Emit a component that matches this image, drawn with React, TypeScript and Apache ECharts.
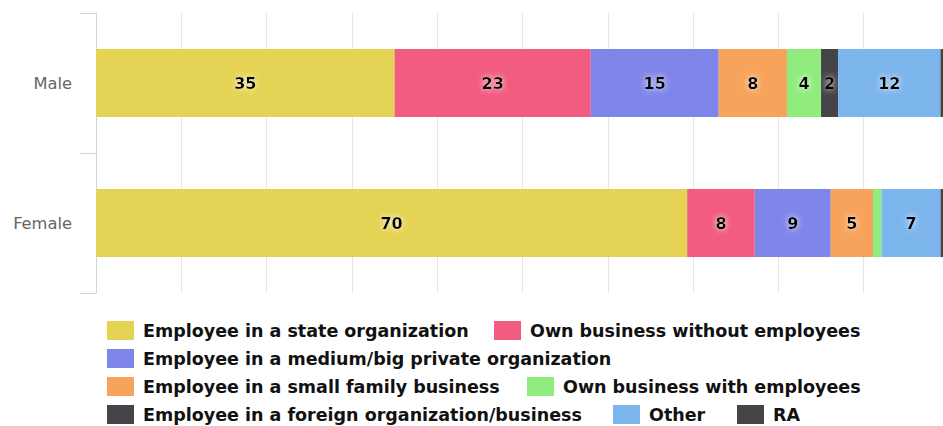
import React, { useEffect, useRef } from "react";
import * as echarts from "echarts";

const categories = ["Male", "Female"];
const seriesNames = [
  "Employee in a state organization",
  "Own business without employees",
  "Employee in a medium/big private organization",
  "Employee in a small family business",
  "Own business with employees",
  "Employee in a foreign organization/business",
  "Other",
  "RA",
];
// raw values [Male, Female] per series (stacked to 100% per category)
const stateOrg = [35, 70];
const ownNoEmp = [23, 8];
const mediumBig = [15, 9];
const smallFamily = [8, 5];
const ownWithEmp = [4, 1];
const foreignOrg = [2, 0];
const other = [12, 7];
const ra = [1, 1];
const seriesValues = [stateOrg, ownNoEmp, mediumBig, smallFamily, ownWithEmp, foreignOrg, other, ra];
const colors = ["#e4d354", "#f15c80", "#8085e9", "#f7a35c", "#90ed7d", "#434348", "#7cb5ec", "#444444"];

// legend item placement (left px, row index)
const legendLeft = [107, 494, 107, 107, 527, 107, 613, 737];
const legendRow = [0, 0, 1, 2, 2, 3, 3, 3];

const FONT = "DejaVu Sans";

export default function App() {
  const ref = useRef<HTMLDivElement>(null);
  useEffect(() => {
    if (!ref.current) return;
    const chart = echarts.init(ref.current, undefined, { renderer: "svg" });
    const totals = categories.map((_, ci) => seriesValues.reduce((s, arr) => s + arr[ci], 0));
    const series = seriesNames.map((name, si) => ({
      name,
      type: "bar",
      stack: "total",
      barWidth: 68,
      itemStyle: { color: colors[si] },
      data: seriesValues[si].map((v, ci) => ({
        value: (v / totals[ci]) * 100,
        raw: v,
        label: { show: v >= 2 },
      })),
      label: {
        show: true,
        position: "inside",
        formatter: (p: any) => String(p.data.raw),
        fontFamily: FONT,
        fontWeight: "bold",
        fontSize: 16,
        color: "#000",
        textShadowColor: "rgba(255,255,255,0.95)",
        textShadowBlur: 6,
      },
    }));
    const legends = seriesNames.map((name, i) => ({
      left: legendLeft[i],
      top: 321 + legendRow[i] * 28,
      padding: 0,
      itemWidth: 27,
      itemHeight: 19,
      icon: "rect",
      data: [name],
      textStyle: {
        fontFamily: FONT,
        fontWeight: "bold",
        fontSize: 17.5,
        color: "#111",
        padding: [0, 0, 0, 4],
      },
    }));
    chart.setOption({
      animation: false,
      color: colors,
      grid: {
        left: 96,
        right: -6,
        top: 13,
        height: 280,
        containLabel: false,
        outerBoundsMode: "none",
      },
      xAxis: {
        type: "value",
        min: 0,
        max: 100,
        interval: 10,
        axisLabel: { show: false },
        axisLine: { show: false },
        axisTick: { show: false },
        splitLine: { show: true, lineStyle: { color: "#e6e6e6", width: 1 } },
      },
      yAxis: {
        type: "category",
        data: categories,
        inverse: true,
        axisLine: { show: true, lineStyle: { color: "#ccd6eb", width: 1 } },
        axisTick: { show: true, length: 16, lineStyle: { color: "#ccd6eb", width: 1 } },
        axisLabel: {
          color: "#666666",
          fontSize: 16.3,
          fontFamily: FONT,
          margin: 24,
          padding: [0, 0, 4, 0],
        },
        splitLine: { show: false },
      },
      legend: legends,
      series,
    });
    return () => chart.dispose();
  }, []);
  return (
    <div
      ref={ref}
      style={{ position: "absolute", left: 0, top: 0, width: 943, height: 426, overflow: "hidden" }}
    />
  );
}
